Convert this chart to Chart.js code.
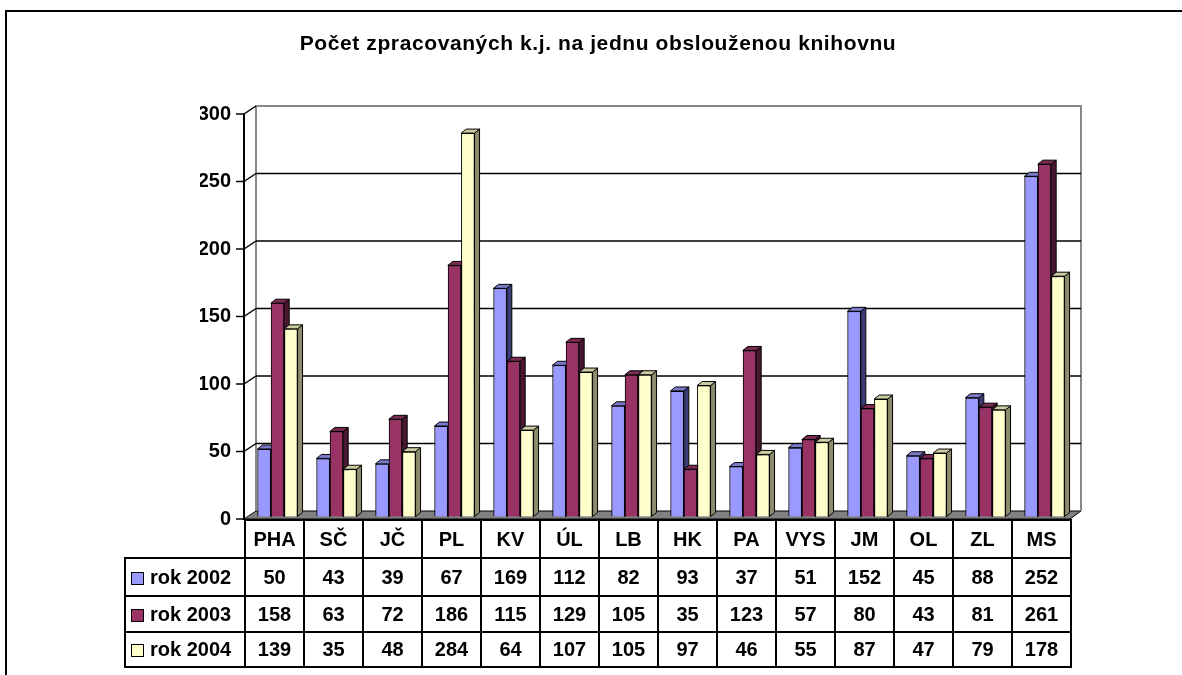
<!DOCTYPE html>
<html>
<head>
<meta charset="utf-8">
<script src="https://cdn.jsdelivr.net/npm/chart.js@4.4.0/dist/chart.umd.min.js"></script>
<style>
  body { margin:0; background:#fff; font-family:"Liberation Sans", Arial, sans-serif; }
  #wrap { position:relative; width:1182px; height:675px; overflow:hidden; }
  #frame { position:absolute; left:5px; top:10px; width:1250px; height:750px; border:2px solid #000; box-sizing:border-box; }
  #chart { position:absolute; left:0; top:0; }
  #title { position:absolute; left:14px; width:1168px; top:31px; line-height:24px; text-align:center; font-weight:bold; font-size:21px; letter-spacing:0.6px; color:#000; }
  #tbl { position:absolute; left:124px; top:519px; border-collapse:collapse; table-layout:fixed; font-weight:bold; font-size:20px; color:#000; }
  #tbl td, #tbl th { border:2px solid #000; text-align:center; padding:0; font-weight:bold; white-space:nowrap; }
  #tbl td.blank { border-top:none; border-left:none; border-bottom:2px solid #000; }
  #tbl td.lg { text-align:left; padding-left:5px; }
  #tbl .sw { display:inline-block; width:11px; height:11px; border:1px solid #000; margin-right:6px; vertical-align:-1px; }
</style>
</head>
<body>
<div id="wrap">
  <div id="frame"></div>
  <canvas id="chart" width="1182" height="675"></canvas>
  <div id="title">Počet zpracovaných k.j. na jednu obslouženou knihovnu</div>
  <table id="tbl"></table>
</div>
<script>
const CATS   = ['PHA','SČ','JČ','PL','KV','ÚL','LB','HK','PA','VYS','JM','OL','ZL','MS']
const LABELS = ['rok 2002','rok 2003','rok 2004']
const Y2002  = [50, 43, 39, 67, 169, 112, 82, 93, 37, 51, 152, 45, 88, 252]
const Y2003  = [158, 63, 72, 186, 115, 129, 105, 35, 123, 57, 80, 43, 81, 261]
const Y2004  = [139, 35, 48, 284, 64, 107, 105, 97, 46, 55, 87, 47, 79, 178]
const Y_MIN = 0, Y_MAX = 300, Y_STEP = 50

const FRONT = ['#9999ff','#993366','#ffffcc']
const SIDE  = ['#3c3c78','#4a1630','#8c8c6c']
const TOP   = ['#7a7acc','#7a2950','#cccca3']
const DX = 5, DY = 4

const box = {
  id: 'box',
  // back wall, floor, gridlines and front axis of the 3D box
  beforeDatasetsDraw(chart) {
    const { ctx, chartArea: a, scales: { y } } = chart
    const fy = v => y.getPixelForValue(v) + 2.5
    const by = v => fy(v) - 8
    const ax = a.left - 4, fr = a.right - 4
    const wx = ax + 12, wr = fr + 11
    const ticks = y.ticks.map(t => t.value)
    ctx.save()
    ctx.beginPath()
    ctx.moveTo(ax, fy(0)); ctx.lineTo(fr, fy(0)); ctx.lineTo(wr, by(0)); ctx.lineTo(wx, by(0)); ctx.closePath()
    ctx.fillStyle = '#808080'; ctx.fill()
    ctx.strokeStyle = '#000'; ctx.lineWidth = 1; ctx.stroke()
    ctx.strokeStyle = '#888'; ctx.lineWidth = 2
    ctx.beginPath()
    ctx.moveTo(wx, by(0)); ctx.lineTo(wx, by(Y_MAX)); ctx.lineTo(wr, by(Y_MAX)); ctx.lineTo(wr, by(0))
    ctx.stroke()
    ctx.strokeStyle = '#000'; ctx.lineWidth = 1.5
    ticks.forEach(v => {
      if (v > Y_MIN && v < Y_MAX) {
        ctx.beginPath(); ctx.moveTo(wx, by(v)); ctx.lineTo(wr, by(v)); ctx.stroke()
      }
      if (v > Y_MIN) {
        ctx.beginPath(); ctx.moveTo(ax, fy(v)); ctx.lineTo(wx, by(v)); ctx.stroke()
      }
    })
    ctx.lineWidth = 2
    ctx.beginPath(); ctx.moveTo(ax, fy(Y_MAX)); ctx.lineTo(ax, fy(0) + 1); ctx.stroke()
    ctx.lineWidth = 1.5
    ticks.forEach(v => { ctx.beginPath(); ctx.moveTo(ax - 8, fy(v)); ctx.lineTo(ax, fy(v)); ctx.stroke() })
    ctx.restore()
  },
  // chart.js paints the last series first; repaint left to right with top and side faces
  // so each series covers the side faces of the one before it
  afterDatasetsDraw(chart) {
    const ctx = chart.ctx
    chart.data.datasets.forEach((ds, i) => {
      const meta = chart.getDatasetMeta(i)
      ctx.save()
      ctx.strokeStyle = '#000'; ctx.lineWidth = 1
      meta.data.forEach(bar => {
        const { x, y, base, width } = bar.getProps(['x','y','base','width'], true)
        const l = x - width / 2, r = x + width / 2
        ctx.beginPath()
        ctx.moveTo(r, y); ctx.lineTo(r + DX, y - DY); ctx.lineTo(r + DX, base - DY); ctx.lineTo(r, base); ctx.closePath()
        ctx.fillStyle = SIDE[i]; ctx.fill(); ctx.stroke()
        ctx.beginPath()
        ctx.moveTo(l, y); ctx.lineTo(l + DX, y - DY); ctx.lineTo(r + DX, y - DY); ctx.lineTo(r, y); ctx.closePath()
        ctx.fillStyle = TOP[i]; ctx.fill(); ctx.stroke()
      })
      ctx.restore()
      meta.data.forEach(bar => bar.draw(ctx))
    })
  }
}

const series = [Y2002, Y2003, Y2004]

new Chart(document.getElementById('chart'), {
  type: 'bar',
  data: {
    labels: CATS,
    datasets: series.map((d, i) => ({
      label: LABELS[i], data: d,
      backgroundColor: FRONT[i], borderColor: '#000', borderWidth: 1,
      categoryPercentage: 0.68, barPercentage: 1,
    })),
  },
  options: {
    responsive: false, animation: false,
    layout: { padding: { left: 200, right: 108, top: 111.5, bottom: 158.5 } },
    plugins: { legend: { display: false }, title: { display: false }, tooltip: { enabled: false } },
    scales: {
      x: { display: false },
      y: {
        min: Y_MIN, max: Y_MAX,
        afterFit: s => { s.width = 48 },
        grid: { display: false, drawTicks: false },
        border: { display: false },
        ticks: { stepSize: Y_STEP, padding: 17, labelOffset: 2.5, color: '#000',
                 font: { family: '"Liberation Sans", Arial, sans-serif', size: 20, weight: 'bold' } },
      },
    },
  },
  plugins: [box],
})

// data table under the plot
const tbl = document.getElementById('tbl')
let html = '<colgroup><col style="width:120px">' + CATS.map(() => '<col style="width:59px">').join('') + '</colgroup>'
html += '<tr style="height:38px"><td class="blank"></td>' + CATS.map(c => `<th>${c}</th>`).join('') + '</tr>'
const rowH = [38, 36, 35]
series.forEach((d, i) => {
  html += `<tr style="height:${rowH[i]}px"><td class="lg"><span class="sw" style="background:${FRONT[i]}"></span>${LABELS[i]}</td>`
        + d.map(v => `<td>${v}</td>`).join('') + '</tr>'
})
tbl.innerHTML = html
</script>
</body>
</html>
